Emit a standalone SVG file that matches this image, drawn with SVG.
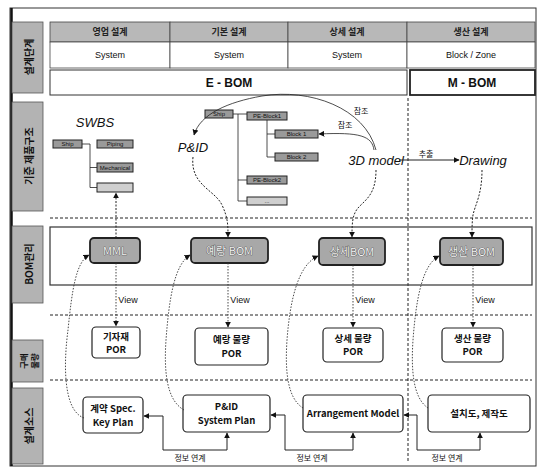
<svg xmlns="http://www.w3.org/2000/svg" width="539" height="468" viewBox="0 0 539 468">
<style>
text{font-family:"Liberation Sans","Noto Sans CJK KR",sans-serif;fill:#111}
.kr{font-family:"Noto Sans CJK KR","Liberation Sans",sans-serif}
.lab{fill:#b3b3b3;stroke:#555;stroke-width:0.8}
.labt{font-family:"Noto Sans CJK KR",sans-serif;font-size:10px;font-weight:bold;text-anchor:middle;dominant-baseline:central}
.hdr{fill:#b8b8b8;stroke:#444;stroke-width:0.8}
.cell{fill:#fff;stroke:#444;stroke-width:0.8}
.ht{font-family:"Noto Sans CJK KR",sans-serif;font-size:9px;font-weight:bold;text-anchor:middle;fill:#222}
.st{font-size:9px;text-anchor:middle}
.big{font-size:12px;font-weight:bold;text-anchor:middle}
.dash{stroke:#222;stroke-width:1;stroke-dasharray:3,2;fill:none}
.tb{fill:#9a9a9a;stroke:#222;stroke-width:1}
.tbl{fill:#cfcfcf;stroke:#222;stroke-width:1}
.tt{font-size:6px;text-anchor:middle;fill:#111}
.tl{stroke:#222;stroke-width:0.8;fill:none}
.it{font-style:italic;font-size:13px;text-anchor:middle}
.bom{fill:#a8a8a8;stroke:#222;stroke-width:1.8}
.bomt{font-family:"Noto Sans CJK KR",sans-serif;font-size:11px;text-anchor:middle;fill:#f2f2f2;stroke:#444;stroke-width:0.7;paint-order:stroke}
.por{fill:#fff;stroke:#222;stroke-width:1.2}
.pt{font-family:"Noto Sans CJK KR",sans-serif;font-size:9.5px;font-weight:bold;text-anchor:middle}
.dot{stroke:#333;stroke-width:0.9;stroke-dasharray:1.5,1.5;fill:none}
.el{stroke:#222;stroke-width:1;fill:none}
.sm{font-family:"Noto Sans CJK KR",sans-serif;font-size:8px;text-anchor:middle}
</style>
<defs>
<marker id="ah" viewBox="0 0 10 10" refX="9" refY="5" markerWidth="6" markerHeight="6" orient="auto-start-reverse" markerUnits="userSpaceOnUse">
<path d="M0,0 L10,5 L0,10 z" fill="#111"/>
</marker>
</defs>
<rect x="10" y="8" width="526" height="458" fill="#fff" stroke="#333" stroke-width="1"/>
<line x1="11.5" y1="8" x2="11.5" y2="466" stroke="#111" stroke-width="2.5"/>

<g id="labels">
<g id="lab-stage"><rect class="lab" x="12" y="22" width="31" height="71"/><text class="labt" transform="translate(28,57) rotate(-90)">설계단계</text></g>
<g id="lab-struct"><rect class="lab" x="12" y="102" width="31" height="109"/><text class="labt" transform="translate(28,156) rotate(-90)">기준 제품구조</text></g>
<g id="lab-bom"><rect class="lab" x="12" y="226" width="31" height="77"/><text class="labt" transform="translate(28,264) rotate(-90)">BOM관리</text></g>
<g id="lab-buy"><rect class="lab" x="12" y="340" width="31" height="42"/><text class="labt" style="font-size:8.5px" transform="translate(28,361) rotate(-90)"><tspan x="0" dy="-5.5">구매</tspan><tspan x="0" dy="11">물량</tspan></text></g>
<g id="lab-src"><rect class="lab" x="12" y="388" width="31" height="76"/><text class="labt" transform="translate(28,426) rotate(-90)">설계소스</text></g>
</g>

<g id="header">
<rect class="hdr" x="50" y="22" width="120" height="20"/>
<rect class="hdr" x="170" y="22" width="118" height="20"/>
<rect class="hdr" x="288" y="22" width="119" height="20"/>
<rect class="hdr" x="407" y="22" width="128" height="20"/>
<rect class="cell" x="50" y="42" width="120" height="26"/>
<rect class="cell" x="170" y="42" width="118" height="26"/>
<rect class="cell" x="288" y="42" width="119" height="26"/>
<rect class="cell" x="407" y="42" width="128" height="26"/>
<text class="ht" x="110" y="35">영업 설계</text>
<text class="ht" x="229" y="35">기본 설계</text>
<text class="ht" x="347" y="35">상세 설계</text>
<text class="ht" x="471" y="35">생산 설계</text>
<text class="st" x="110" y="58">System</text>
<text class="st" x="229" y="58">System</text>
<text class="st" x="347" y="58">System</text>
<text class="st" x="471" y="58">Block / Zone</text>
<rect x="50" y="70" width="357" height="25" fill="#fff" stroke="#333" stroke-width="1"/>
<rect x="410" y="70" width="125" height="25" fill="#fff" stroke="#222" stroke-width="1.8"/>
<text class="big" x="229" y="87">E - BOM</text>
<text class="big" x="472" y="87">M - BOM</text>
</g>

<g id="grid">
<line class="dash" x1="50" y1="218" x2="532" y2="218"/>
<line class="dash" x1="50" y1="315" x2="532" y2="315"/>
<line class="dash" x1="50" y1="380" x2="532" y2="380"/>
<line class="dash" x1="408" y1="98" x2="408" y2="462"/>
<rect x="50" y="227" width="482" height="58" fill="none" stroke="#333" stroke-width="1.2"/>
</g>

<g id="swbs">
<text class="it" x="95" y="127">SWBS</text>
<rect class="tb" x="53" y="140" width="29" height="8"/><text class="tt" x="67.5" y="146.2">Ship</text>
<rect class="tb" x="97" y="140" width="36" height="8"/><text class="tt" x="115" y="146.2">Piping</text>
<rect class="tb" x="97" y="163" width="36" height="9"/><text class="tt" x="115" y="169.7">Mechanical</text>
<rect class="tbl" x="97" y="183" width="36" height="9"/>
<path class="tl" d="M82,144 H90 M90,144 V187.5 H97 M90,167.5 H97"/>
</g>

<g id="ptree">
<rect class="tb" x="205" y="110" width="28" height="8"/><text class="tt" x="219" y="116.2">Ship</text>
<rect class="tb" x="247" y="112" width="40" height="8"/><text class="tt" x="267" y="118.2">PE-Block1</text>
<rect class="tb" x="275" y="130" width="43" height="8"/><text class="tt" x="296.5" y="136.2">Block 1</text>
<rect class="tb" x="275" y="153" width="43" height="8"/><text class="tt" x="296.5" y="159.2">Block 2</text>
<rect class="tb" x="247" y="176" width="40" height="8"/><text class="tt" x="267" y="182.2">PE-Block2</text>
<rect class="tbl" x="247" y="197" width="40" height="8"/><text class="tt" x="267" y="203.2">...</text>
<path class="tl" d="M233,114 H247 M238,114 V201 H247 M238,180 H247 M267,120 V157 H275 M267,134 H275"/>
</g>

<g id="models">
<text class="it" x="193" y="152">P&amp;ID</text>
<text class="it" x="376" y="165">3D model</text>
<text class="it" x="483" y="165">Drawing</text>
<text class="sm kr" x="361" y="114">참조</text>
<text class="sm kr" x="345" y="128">참조</text>
<text class="sm kr" x="426" y="157">추출</text>
</g>

<g id="bom">
<g id="n-mml"><rect class="bom" x="90" y="238" width="50" height="25" rx="4"/><text class="bomt" x="115" y="254.5">MML</text></g>
<g id="n-yb"><rect class="bom" x="191" y="238" width="77" height="25" rx="4"/><text class="bomt" x="229.5" y="254.5">예랑 BOM</text></g>
<g id="n-sb"><rect class="bom" x="319" y="238" width="66" height="27" rx="4"/><text class="bomt" x="352" y="255.5">상세BOM</text></g>
<g id="n-pb"><rect class="bom" x="440" y="238" width="63" height="27" rx="4"/><text class="bomt" x="471.5" y="255.5">생산 BOM</text></g>
</g>

<g id="por">
<g id="n-p1"><rect class="por" x="92" y="327" width="48" height="31" rx="4"/><text class="pt" x="116" y="340">기자재</text><text class="pt" x="116" y="353">POR</text></g>
<g id="n-p2"><rect class="por" x="195" y="328" width="73" height="37" rx="4"/><text class="pt" x="231.5" y="343">예랑 물량</text><text class="pt" x="231.5" y="357">POR</text></g>
<g id="n-p3"><rect class="por" x="323" y="328" width="60" height="34" rx="4"/><text class="pt" x="353" y="342">상세 물량</text><text class="pt" x="353" y="355">POR</text></g>
<g id="n-p4"><rect class="por" x="442" y="328" width="61" height="34" rx="4"/><text class="pt" x="472.5" y="342">생산 물량</text><text class="pt" x="472.5" y="355">POR</text></g>
</g>

<g id="src">
<g id="n-kp"><rect class="por" x="83" y="397" width="60" height="36" rx="4"/><text class="pt" x="113" y="412">계약 Spec.</text><text class="pt" x="113" y="426">Key Plan</text></g>
<g id="n-sp"><rect class="por" x="183" y="395" width="87" height="37" rx="4"/><text class="pt" x="226.5" y="410">P&amp;ID</text><text class="pt" x="226.5" y="424">System Plan</text></g>
<g id="n-am"><rect class="por" x="303" y="395" width="100" height="37" rx="4"/><text class="pt" x="353" y="417">Arrangement Model</text></g>
<g id="n-dw"><rect class="por" x="428" y="395" width="102" height="37" rx="4"/><text class="pt" x="479" y="417">설치도, 제작도</text></g>
</g>

<g id="connectors">
<path class="tl" d="M376,150 C365,108 310,88 262,96 C228,102 200,114 194,135" marker-end="url(#ah)"/>
<path class="tl" d="M374,150 C372,136 360,132 319,134" marker-end="url(#ah)"/>
<line class="el" x1="399" y1="160" x2="459" y2="160" marker-end="url(#ah)"/>
<path class="dash" style="stroke-dasharray:2,1.5" d="M193,157 C190,185 215,190 222,205 C228,218 228,225 228,237" marker-end="url(#ah)"/>
<path class="dash" style="stroke-dasharray:2,1.5" d="M376,170 C376,195 365,200 358,208 C352,215 352,225 352,237" marker-end="url(#ah)"/>
<path class="dash" style="stroke-dasharray:2,1.5" d="M482,170 C482,195 475,205 473,215 C472,222 472,228 472,237" marker-end="url(#ah)"/>
<line class="dash" style="stroke-dasharray:2,1.5" x1="116" y1="238" x2="116" y2="193" marker-end="url(#ah)"/>
<line class="dot" x1="116" y1="263" x2="116" y2="326" marker-end="url(#ah)"/>
<line class="dot" x1="228" y1="263" x2="228" y2="327" marker-end="url(#ah)"/>
<line class="dot" x1="353" y1="265" x2="353" y2="327" marker-end="url(#ah)"/>
<line class="dot" x1="473" y1="265" x2="473" y2="327" marker-end="url(#ah)"/>
<text class="st" x="128" y="303">View</text>
<text class="st" x="240" y="303">View</text>
<text class="st" x="365" y="303">View</text>
<text class="st" x="485" y="303">View</text>
<path class="dot" d="M84,418 C62,410 64,360 68,330 C72,290 76,262 89,255" marker-end="url(#ah)"/>
<path class="dot" d="M184,410 C166,400 164,370 166,340 C169,300 174,265 190,255" marker-end="url(#ah)"/>
<path class="dot" d="M303,408 C287,398 285,370 287,340 C290,300 298,265 318,256" marker-end="url(#ah)"/>
<path class="dot" d="M428,408 C413,398 411,370 413,340 C416,300 422,265 439,256" marker-end="url(#ah)"/>
<path class="el" d="M144,416 H163 V450 H227 V433" marker-start="url(#ah)" marker-end="url(#ah)"/>
<path class="el" d="M271,415 H285 V450 H353 V433" marker-start="url(#ah)" marker-end="url(#ah)"/>
<path class="el" d="M404,415 H417 V450 H480 V433" marker-start="url(#ah)" marker-end="url(#ah)"/>
<text class="sm" x="190" y="461">정보 연계</text>
<text class="sm" x="312" y="461">정보 연계</text>
<text class="sm" x="447" y="461">정보 연계</text>
</g>
</svg>
